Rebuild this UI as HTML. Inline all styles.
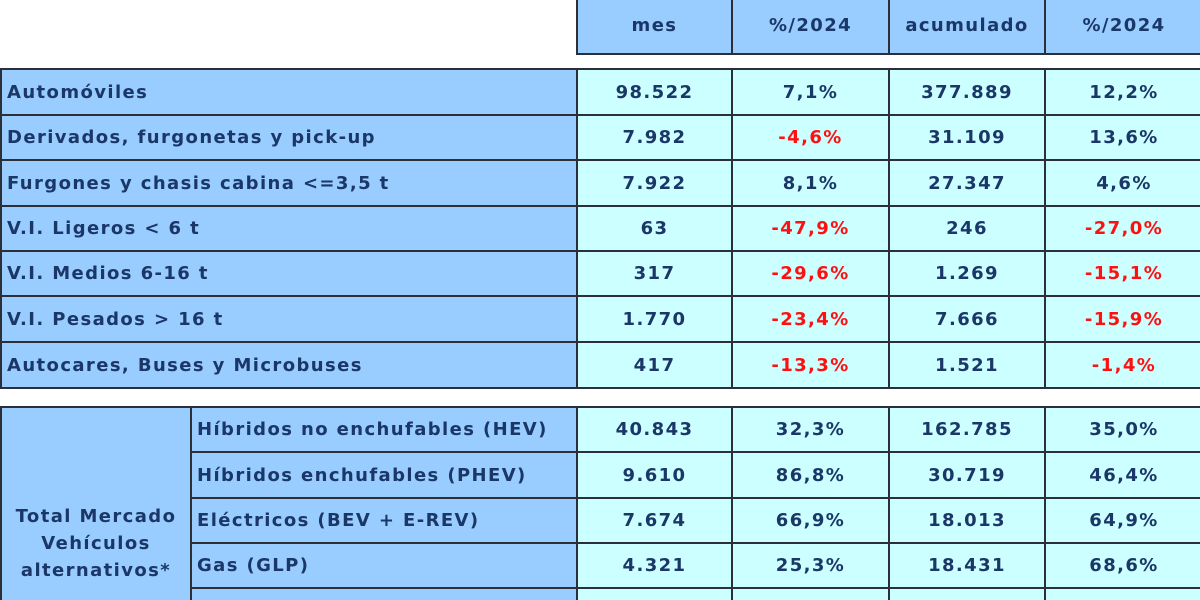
<!DOCTYPE html>
<html><head><meta charset="utf-8"><style>
body{margin:0;width:1200px;height:600px;overflow:hidden;background:#fff;font-family:"DejaVu Sans","Liberation Sans",sans-serif;}
#t{position:relative;width:1200px;height:600px;overflow:hidden;}
.c{position:absolute;box-sizing:border-box;border:2px solid #2a2f3a;display:flex;align-items:center;font-weight:bold;font-size:18px;letter-spacing:1.4px;color:#1a3768;white-space:nowrap;}
.h{background:#99ccff;justify-content:center;}
.l{background:#99ccff;padding-left:5px;}
.v{background:#ccffff;justify-content:center;}
.r{color:#ff1010;}
.g{background:#99ccff;justify-content:center;text-align:center;line-height:27px;white-space:normal;}
</style></head><body>
<div id="t"></div>
<script>
const heads=["mes","%/2024","acumulado","%/2024"];
const rows1=[
["Automóviles","98.522","7,1%","377.889","12,2%"],
["Derivados, furgonetas y pick-up","7.982","-4,6%","31.109","13,6%"],
["Furgones y chasis cabina <=3,5 t","7.922","8,1%","27.347","4,6%"],
["V.I. Ligeros < 6 t","63","-47,9%","246","-27,0%"],
["V.I. Medios 6-16 t","317","-29,6%","1.269","-15,1%"],
["V.I. Pesados > 16 t","1.770","-23,4%","7.666","-15,9%"],
["Autocares, Buses y Microbuses","417","-13,3%","1.521","-1,4%"]];
const rows2=[
["Híbridos no enchufables (HEV)","40.843","32,3%","162.785","35,0%"],
["Híbridos enchufables (PHEV)","9.610","86,8%","30.719","46,4%"],
["Eléctricos (BEV + E-REV)","7.674","66,9%","18.013","64,9%"],
["Gas (GLP)","4.321","25,3%","18.431","68,6%"],
["","","","",""]];
const t=document.getElementById('t');
const cx=[576,731,888,1044,1202];
function cell(x,y,w,h,cls,txt,name){const d=document.createElement('div');d.className='c '+cls;d.style.left=x+'px';d.style.top=y+'px';d.style.width=w+'px';d.style.height=h+'px';d.textContent=txt;


t.appendChild(d);return d;}
heads.forEach((h,i)=>cell(cx[i],-4,cx[i+1]-cx[i]+2,59,'h',h,'header-'+i));
function vals(r,y,h,k,p){for(let i=0;i<4;i++){cell(cx[i],y,cx[i+1]-cx[i]+2,h,'v'+(r[i+1].startsWith('-')?' r':''),r[i+1],p+'-value-'+k+'-'+i);}}
const y1=[68,114,159,205,250,295,341,387];
rows1.forEach((r,k)=>{const y=y1[k],h=y1[k+1]-y+2;cell(0,y,578,h,'l',r[0],'row-label-'+k);vals(r,y,h,k,'top');});
const y2=[406,451,497,542,587,633];
cell(0,y2[0],192,250,'g','Total Mercado Vehículos alternativos*','group-label').style.paddingTop='24px';
rows2.forEach((r,k)=>{const y=y2[k],h=y2[k+1]-y+2;cell(190,y,388,h,'l',r[0],'alt-label-'+k);vals(r,y,h,k,'alt');});
</script>
</body></html>
